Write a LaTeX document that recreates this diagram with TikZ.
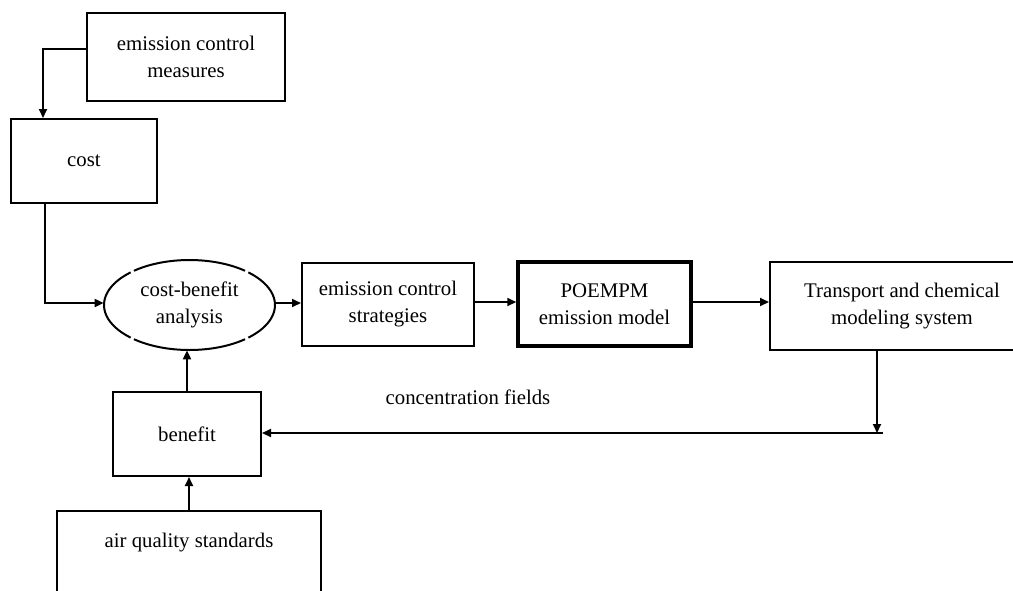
\documentclass[tikz,border=0pt]{standalone}
\usepackage{fontspec}
\setmainfont{Liberation Serif}
\usetikzlibrary{shapes.geometric,arrows.meta}

\tikzset{
  box/.style={draw, line width=1pt, inner sep=2pt, align=center, font=\fontsize{10.4}{13.5}\selectfont},
  flow/.style={line width=1pt, ->},
}

\begin{document}
\begin{tikzpicture}[x=0.5pt, y=-0.5pt, >={Triangle[length=4.5pt,width=4pt]}]
\useasboundingbox (0,0) rectangle (1013,590);
\node[box, minimum width=99pt, minimum height=44pt] (measures) at (186,57) {emission control\\measures};
\node[box, minimum width=73pt, minimum height=42pt] (cost) at (84,161) {cost};
\node[ellipse, inner sep=0pt, minimum width=85.5pt, minimum height=45pt, align=center, font=\fontsize{10.4}{13.5}\selectfont] (analysis) at (189.5,305) {cost-benefit\\analysis};
\node[box, minimum width=86pt, minimum height=41.5pt] (strategies) at (388,304) {emission control\\strategies};
\node[box, line width=1.75pt, minimum width=86.5pt, minimum height=42pt] (model) at (604.5,304) {POEMPM\\emission model};
\node[box, minimum width=132pt, minimum height=44pt] (transport) at (902,306) {Transport and chemical\\modeling system};
\node[box, minimum width=74pt, minimum height=42pt] (benefit) at (187,434) {benefit};
\node[box, anchor=north, minimum width=132pt, inner ysep=11pt, text height=7pt, text depth=50pt] (standards) at (189,510) {air quality standards};
\node[font=\fontsize{10.4}{13.5}\selectfont] (fields) at (468,397) {concentration fields};
\coordinate (drop) at (877,433);
\foreach \from/\to in {49.5/130.5, 133.5/226.5, 229.5/310.5, 313.5/406.5}
  \draw[line width=1pt] ([shift={(\from:42.75pt and 22.5pt)}]analysis.center) arc[start angle=\from, end angle=\to, x radius=42.75pt, y radius=22.5pt];
\draw[flow] ([yshift=4pt]measures.west) -| ([xshift=-20.5pt]cost.north);
\draw[flow] ([xshift=-19.5pt]cost.south) |- ([yshift=1pt]analysis.west);
\draw[flow] ([yshift=1pt]analysis.east) -- ([yshift=1pt]analysis.east -| strategies.west);
\draw[flow] ([yshift=1pt]strategies.east) -- ([yshift=1pt]strategies.east -| model.west);
\draw[flow] ([yshift=1pt]model.east) -- ([yshift=1pt]model.east -| transport.west);
\draw[flow] (transport.south -| drop) -- (drop);
\draw[flow] ([xshift=3pt]drop) -- (drop -| benefit.east);
\draw[flow] (benefit.north) -- (benefit.north |- analysis.south);
\draw[flow] (standards.north) -- (standards.north |- benefit.south);
\end{tikzpicture}
\end{document}
